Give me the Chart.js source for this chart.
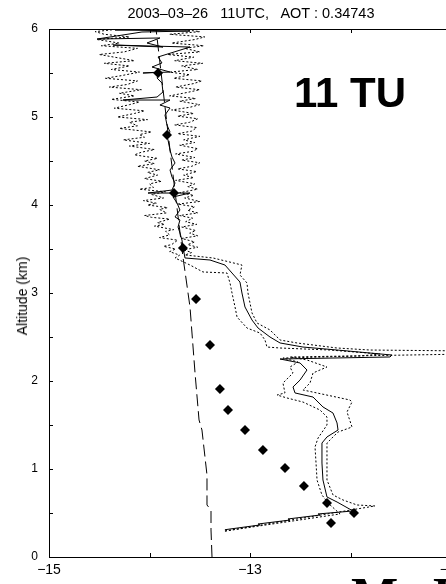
<!DOCTYPE html>
<html>
<head>
<meta charset="utf-8">
<script src="https://cdn.jsdelivr.net/npm/chart.js@4.4.1/dist/chart.umd.min.js"></script>
<style>
  html, body { margin: 0; padding: 0; background: #fff; }
  #wrap { position: relative; width: 446px; height: 584px; overflow: hidden; background: #fff; }
  #c { position: absolute; left: 0; top: 0; }
  .t { position: absolute; color: #000; white-space: pre; font-family: "Liberation Sans", Arial, sans-serif; }
</style>
</head>
<body>
<div id="wrap">
  <canvas id="c" width="480" height="584"></canvas>
  <div class="t" id="title" style="left:0;width:502px;text-align:center;top:6px;font-size:14.5px;line-height:14px;">2003–03–26   11UTC,   AOT : 0.34743</div>
  <div class="t" style="left:22px;top:296px;font-size:14px;line-height:14px;transform:translate(-50%,-50%) rotate(-90deg);">Altitude (km)</div>
  <div class="t" style="left:294px;top:72px;font-size:42px;line-height:42px;font-weight:bold;">11 TU</div>
  <div class="t" style="left:351px;top:570px;font-size:50px;line-height:50px;font-weight:bold;font-family:'Liberation Serif','Times New Roman',serif;">M</div>
  <div class="t" style="left:433px;top:570px;font-size:50px;line-height:50px;font-weight:bold;font-family:'Liberation Serif','Times New Roman',serif;">D</div>
</div>
<script>
// ---- axis ticks ----
const xTickValues = [-15, -14, -13, -12, -11];
const xTickLabels = ['−15', '', '−13', '', '−11'];
const yTickValues = [0, 0.5, 1, 1.5, 2, 2.5, 3, 3.5, 4, 4.5, 5, 5.5, 6];
const yTickLabels = ['0', '', '1', '', '2', '', '3', '', '4', '', '5', '', '6'];

// ---- retrieved profile (solid) ----
const solidAlt = [0.31,0.364,0.375,0.420,0.432,0.477,0.489,0.523,0.625,0.682,0.875,1.068,1.295,1.364,1.443,1.523,1.636,1.705,1.818,1.864,1.932,2.011,2.125,2.205,2.25,2.273,2.295,2.318,2.352,2.386,2.432,2.5,2.602,2.693,2.841,3.0,3.125,3.227,3.318,3.375,3.398,3.523,3.602,3.682,3.75,3.83,3.864,3.943,4.023,4.091,4.136,4.136,4.170,4.25,4.318,4.398,4.477,4.545,4.625,4.739,4.773,4.830,4.909,5.023,5.102,5.136,5.193,5.193,5.227,5.284,5.386,5.443,5.511,5.5,5.511,5.568,5.614,5.682,5.795,5.818,5.795,5.841,5.898,5.886,5.966,5.977,5.989,6.0];
const solidVal = [-13.25,-12.90,-12.92,-12.602,-12.622,-12.303,-12.323,-11.975,-12.134,-12.234,-12.274,-12.284,-12.284,-12.234,-12.124,-12.134,-12.174,-12.274,-12.373,-12.552,-12.572,-12.502,-12.433,-12.502,-12.701,-11.607,-11.587,-11.806,-12.134,-12.473,-12.701,-12.801,-12.920,-12.980,-13.050,-13.080,-13.100,-13.179,-13.249,-13.398,-13.647,-13.667,-13.677,-13.697,-13.716,-13.697,-13.746,-13.697,-13.726,-13.766,-13.597,-14.015,-13.776,-13.746,-13.776,-13.796,-13.746,-13.776,-13.796,-13.816,-13.826,-13.796,-13.826,-13.846,-13.796,-13.896,-13.796,-14.264,-13.925,-13.866,-13.876,-13.925,-13.896,-14.065,-13.796,-13.975,-13.876,-13.915,-13.597,-14.363,-13.866,-14.025,-13.896,-14.522,-14.075,-13.597,-14.343,-13.896];

// ---- lower error bound (dotted) ----
const lowAlt = [0.295,0.489,0.614,0.705,0.875,1.068,1.25,1.352,1.5,1.591,1.670,1.761,1.807,1.841,1.864,1.977,2.091,2.159,2.216,2.261,2.284,2.307,2.352,2.375,2.386,2.466,2.545,2.602,2.727,2.841,3.0,3.114,3.227,3.239,3.318,
  3.398,3.43,3.47,3.50,3.53,3.55,3.60,3.63,3.66,3.70,3.72,3.76,3.78,3.80,3.84,3.86,3.88,3.91,3.95,3.97,4.00,4.02,4.05,4.08,4.12,4.15,4.18,4.20,4.24,4.27,4.30,4.34,4.37,4.40,4.44,4.47,4.50,4.53,4.57,4.60,4.63,4.67,4.70,4.74,4.77,4.80,4.83,4.87,4.90,4.94,4.97,5.00,5.04,5.07,5.10,5.14,5.17,5.20,5.24,5.27,5.31,5.34,5.37,5.41,5.44,5.47,5.51,5.54,5.58,5.61,5.64,5.68,5.71,5.74,5.78,5.81,5.84,5.88,5.91,5.94,5.97,6.0];
const lowVal = [-13.249,-12.104,-12.224,-12.284,-12.333,-12.343,-12.353,-12.323,-12.234,-12.234,-12.303,-12.473,-12.632,-12.731,-12.652,-12.672,-12.572,-12.602,-12.522,-12.672,-11.905,-11.706,-12.204,-12.701,-12.831,-12.851,-12.900,-13.030,-13.129,-13.149,-13.179,-13.199,-13.229,-13.468,-13.597,
  -13.746,-13.70,-13.80,-13.74,-13.86,-13.78,-13.72,-13.90,-13.80,-13.84,-13.76,-13.95,-13.85,-13.92,-13.80,-13.98,-14.05,-13.83,-13.90,-13.82,-14.02,-13.93,-14.06,-13.86,-13.98,-13.84,-14.10,-13.96,-14.00,-13.88,-14.05,-13.92,-14.02,-13.90,-14.12,-13.95,-14.05,-13.92,-14.15,-14.08,-13.95,-14.20,-14.00,-14.26,-14.05,-14.10,-13.98,-14.30,-14.12,-14.20,-14.02,-14.32,-14.15,-14.05,-14.35,-14.20,-14.10,-14.38,-14.15,-14.30,-14.08,-14.40,-14.22,-14.12,-14.44,-14.28,-14.10,-14.38,-14.20,-14.45,-14.15,-14.35,-14.50,-14.25,-14.12,-14.48,-14.30,-14.52,-14.20,-14.45,-14.54,-14.30];

// ---- upper error bound (dotted) ----
const highAlt = [0.295,0.580,0.591,0.648,0.705,0.875,1.023,1.295,1.364,1.420,1.477,1.648,1.761,1.784,1.864,1.898,1.977,2.091,2.159,2.239,2.273,2.307,2.341,2.352,2.375,2.432,2.466,2.580,2.659,2.773,2.886,3.0,3.114,3.205,3.318,3.398,
  3.432,3.46,3.49,3.52,3.55,3.58,3.62,3.65,3.68,3.71,3.75,3.78,3.81,3.85,3.88,3.91,3.94,3.98,4.01,4.04,4.08,4.11,4.14,4.18,4.21,4.24,4.28,4.31,4.34,4.38,4.41,4.44,4.48,4.51,4.54,4.58,4.61,4.64,4.68,4.71,4.74,4.78,4.81,4.84,4.88,4.91,4.94,4.98,5.01,5.04,5.08,5.11,5.14,5.18,5.21,5.24,5.28,5.31,5.34,5.38,5.41,5.44,5.48,5.51,5.54,5.58,5.61,5.64,5.68,5.71,5.74,5.78,5.81,5.84,5.88,5.91,5.94,5.97,6.0];
const highVal = [-13.249,-11.756,-11.935,-12.075,-12.174,-12.234,-12.234,-12.234,-12.174,-12.124,-11.985,-12.035,-11.985,-12.005,-12.333,-12.473,-12.403,-12.373,-12.234,-12.433,-12.602,-10.811,-10.811,-11.806,-12.134,-12.532,-12.701,-12.801,-12.930,-12.980,-13.000,-13.020,-13.030,-13.100,-13.080,-13.368,
  -13.647,-13.58,-13.66,-13.52,-13.62,-13.55,-13.68,-13.52,-13.60,-13.54,-13.68,-13.53,-13.64,-13.57,-13.70,-13.52,-13.62,-13.55,-13.72,-13.50,-13.65,-13.56,-13.70,-13.52,-13.62,-13.55,-13.74,-13.56,-13.66,-13.53,-13.72,-13.58,-13.50,-13.68,-13.55,-13.74,-13.57,-13.52,-13.70,-13.55,-13.66,-13.50,-13.72,-13.58,-13.53,-13.75,-13.60,-13.52,-13.72,-13.56,-13.78,-13.60,-13.50,-13.70,-13.54,-13.80,-13.62,-13.50,-13.74,-13.56,-13.48,-13.76,-13.60,-13.80,-13.52,-13.68,-13.47,-13.75,-13.56,-13.82,-13.50,-13.65,-13.46,-13.78,-13.55,-13.45,-13.80,-13.50,-13.70];

// ---- molecular profile (dashed) ----
const molAlt = [0, 0.307, 0.534, 0.591, 0.932, 1.443, 1.557, 2.091, 2.841, 3.409, 4.625, 6.0];
const molVal = [-13.378, -13.388, -13.388, -13.428, -13.428, -13.478, -13.507, -13.547, -13.597, -13.667, -13.796, -13.935];

// ---- diamonds ----
const ptsAlt = [5.5, 4.795, 4.136, 3.511, 2.932, 2.409, 1.909, 1.670, 1.443, 1.216, 1.011, 0.807, 0.614, 0.5, 0.386];
const ptsVal = [-13.915, -13.826, -13.756, -13.667, -13.537, -13.398, -13.299, -13.219, -13.050, -12.871, -12.652, -12.463, -12.234, -11.965, -12.194];

const pairs = (xs, ys) => xs.map((v, i) => ({ x: v, y: ys[i] }));
const FONT = '"Liberation Sans", Arial, sans-serif';

const insideTicks = {
  id: 'insideTicks',
  afterDraw(chart) {
    const { ctx, chartArea: a, scales: { x, y } } = chart;
    ctx.save();
    ctx.strokeStyle = '#000';
    ctx.lineWidth = 1;
    ctx.beginPath();
    ctx.moveTo(a.left, a.top + 0.5);
    ctx.lineTo(a.right, a.top + 0.5);
    xTickValues.forEach(v => {
      const px = Math.round(x.getPixelForValue(v)) + 0.5;
      ctx.moveTo(px, a.bottom); ctx.lineTo(px, a.bottom - 4);
      ctx.moveTo(px, a.top); ctx.lineTo(px, a.top + 4);
    });
    yTickValues.forEach(v => {
      const py = Math.round(y.getPixelForValue(v)) + 0.5;
      ctx.moveTo(a.left, py); ctx.lineTo(a.left + 4, py);
    });
    ctx.stroke();
    ctx.restore();
  }
};

new Chart(document.getElementById('c'), {
  type: 'scatter',
  data: {
    datasets: [
      { data: pairs(molVal, molAlt), showLine: true, borderColor: '#000', borderWidth: 1, borderDash: [12, 5], pointRadius: 0, tension: 0 },
      { data: pairs(lowVal, lowAlt), showLine: true, borderColor: '#000', borderWidth: 1, borderDash: [2, 2], pointRadius: 0, tension: 0 },
      { data: pairs(highVal, highAlt), showLine: true, borderColor: '#000', borderWidth: 1, borderDash: [2, 2], pointRadius: 0, tension: 0 },
      { data: pairs(solidVal, solidAlt), showLine: true, borderColor: '#000', borderWidth: 1, pointRadius: 0, tension: 0 },
      { data: pairs(ptsVal, ptsAlt), showLine: false, pointStyle: 'rectRot', pointRadius: 5, backgroundColor: '#000', borderColor: '#000', borderWidth: 0 }
    ]
  },
  options: {
    responsive: false,
    animation: false,
    devicePixelRatio: 1,
    layout: { padding: { top: 29, right: 29, left: 0, bottom: 0 } },
    plugins: { legend: { display: false }, tooltip: { enabled: false }, title: { display: false } },
    scales: {
      x: {
        type: 'linear', min: -15, max: -11,
        grid: { display: false, drawTicks: false },
        border: { display: true, color: '#000', width: 1 },
        ticks: { autoSkip: false, maxRotation: 0, padding: 5, color: '#000', font: { family: FONT, size: 14 },
                 callback: (v, i) => xTickLabels[i] },
        afterBuildTicks: s => { s.ticks = xTickValues.map(v => ({ value: v })); },
        afterFit: s => { s.height = 27; }
      },
      y: {
        type: 'linear', min: 0, max: 6,
        grid: { display: false, drawTicks: false },
        border: { display: true, color: '#000', width: 1 },
        ticks: { autoSkip: false, padding: 11, color: '#000', font: { family: FONT, size: 12 },
                 callback: (v, i) => yTickLabels[i] },
        afterBuildTicks: s => { s.ticks = yTickValues.map(v => ({ value: v })); },
        afterFit: s => { s.width = 49; }
      }
    }
  },
  plugins: [insideTicks]
});
</script>
</body>
</html>
